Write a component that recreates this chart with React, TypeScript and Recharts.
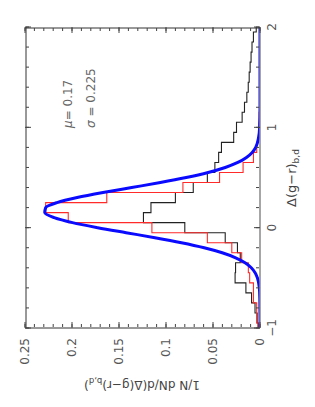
import { LineChart, Line, XAxis, YAxis } from "recharts";

// bin centres of the two histograms (bin width 0.1)
const binCenters = [
  -1.0, -0.9, -0.8, -0.7, -0.6, -0.5, -0.4, -0.3, -0.2, -0.1, 0.0, 0.1, 0.2, 0.3, 0.4, 0.5,
  0.6, 0.7, 0.8, 0.9, 1.0, 1.1, 1.2, 1.3, 1.4, 1.5, 1.6, 1.7, 1.8, 1.9, 2.0,
];

// broad (black) histogram
const blackHist = [
  0.002, 0.003, 0.0053, 0.009, 0.015, 0.0265, 0.026, 0.021, 0.024, 0.037, 0.08, 0.124, 0.116,
  0.09, 0.071, 0.056, 0.048, 0.044, 0.041, 0.028, 0.025, 0.019, 0.0165, 0.014, 0.0125, 0.0115,
  0.0105, 0.0095, 0.0085, 0.007, 0.004,
];

// narrow (red) histogram
const redHist = [
  0.002, 0.0035, 0.0035, 0.007, 0.007, 0.011, 0.0124, 0.0195, 0.03, 0.056, 0.115, 0.204, 0.228,
  0.163, 0.082, 0.043, 0.018, 0.007, 0.0035, 0.0015, 0.001, 0.0008, 0.0005, 0, 0, 0, 0, 0, 0, 0, 0,
];

// gaussian fit (blue)
const fitX = [
  -1.0, -0.9, -0.8, -0.7, -0.6, -0.5, -0.45, -0.4, -0.35, -0.3, -0.25, -0.2, -0.15, -0.1, -0.05,
  0.0, 0.05, 0.1, 0.15, 0.2, 0.25, 0.3, 0.35, 0.4, 0.45, 0.5, 0.55, 0.6, 0.65, 0.7, 0.75, 0.8,
  0.9, 1.0, 1.2, 1.5, 2.0,
];
const fitY = [
  0, 0, 0.0001, 0.0002, 0.0007, 0.0028, 0.0052, 0.0093, 0.0159, 0.0259, 0.0402, 0.0594, 0.0836,
  0.1118, 0.1425, 0.1727, 0.1995, 0.219, 0.229, 0.228, 0.216, 0.1945, 0.167, 0.1365, 0.106,
  0.0785, 0.0552, 0.037, 0.0236, 0.0144, 0.0083, 0.0046, 0.0015, 0.0004, 0, 0, 0,
];

const xLabelTicks = [-1, 0, 1, 2];
const xMinorTicks = [-1, -0.8, -0.6, -0.4, -0.2, 0, 0.2, 0.4, 0.6, 0.8, 1, 1.2, 1.4, 1.6, 1.8, 2];
const yLabelTicks = [0, 0.05, 0.1, 0.15, 0.2, 0.25];
const yMinorTicks = [
  0, 0.01, 0.02, 0.03, 0.04, 0.05, 0.06, 0.07, 0.08, 0.09, 0.1, 0.11, 0.12, 0.13, 0.14, 0.15,
  0.16, 0.17, 0.18, 0.19, 0.2, 0.21, 0.22, 0.23, 0.24, 0.25,
];

const blackData = binCenters.map((x, i) => ({ x, y: blackHist[i] }));
const redData = binCenters.map((x, i) => ({ x, y: redHist[i] }));
const fitData = fitX.map((x, i) => ({ x, y: fitY[i] }));

const W = 407;
const H = 315;
const FONT = "'DejaVu Sans', sans-serif";
const FRAME = "#333";
const TICK = "#444";

const fmtX = (v: number) => (v < 0 ? "\u2212" + Math.abs(v) : String(v));
const NoLabel = () => <g />;

// pairs of tick-only axes; each pair gets an invisible series so the axes get drawn
const tickAxes = [
  { x: "bMin", y: "lMin" },
  { x: "bMaj", y: "lMaj" },
  { x: "tMin", y: "rMin" },
  { x: "tMaj", y: "rMaj" },
];

export default function App() {
  const xDom: [number, number] = [-1, 2];
  const yDom: [number, number] = [0, 0.25];
  const tl = { stroke: TICK, strokeWidth: 1 };
  return (
    <div
      style={{
        position: "absolute",
        left: 0,
        top: 0,
        width: H,
        height: W,
        overflow: "hidden",
        background: "#fff",
      }}
    >
      {/* the figure is printed turned a quarter turn anticlockwise */}
      <div
        style={{
          position: "absolute",
          left: 0,
          top: 0,
          width: W,
          height: H,
          transformOrigin: "0 0",
          transform: `translateY(${W}px) rotate(-90deg)`,
        }}
      >
        <LineChart width={W} height={H} margin={{ top: 25, right: 27, left: 29, bottom: 25 }}>
          {/* labelled axes */}
          <XAxis
            xAxisId={0}
            dataKey="x"
            type="number"
            domain={xDom}
            allowDataOverflow
            ticks={xLabelTicks}
            interval={0}
            tickFormatter={fmtX}
            tickLine={false}
            tickSize={5}
            tickMargin={2}
            height={30}
            axisLine={{ stroke: "#888", strokeWidth: 1.5 }}
            tick={{ fontSize: 12, fill: "#555", fontFamily: FONT }}
          />
          <YAxis
            yAxisId={0}
            type="number"
            domain={yDom}
            allowDataOverflow
            ticks={yLabelTicks}
            interval={0}
            tickLine={false}
            tickSize={6}
            tickMargin={4}
            width={50}
            axisLine={{ stroke: FRAME }}
            tick={{ fontSize: 12, fill: "#555", fontFamily: FONT }}
          />

          {/* inward tick marks on all four sides */}
          <XAxis xAxisId="bMin" dataKey="x" type="number" domain={xDom} allowDataOverflow orientation="bottom" mirror height={1}
            ticks={xMinorTicks} interval={0} tick={NoLabel} tickSize={3} axisLine={false} tickLine={tl} />
          <XAxis xAxisId="bMaj" dataKey="x" type="number" domain={xDom} allowDataOverflow orientation="bottom" mirror height={1}
            ticks={xLabelTicks} interval={0} tick={NoLabel} tickSize={6} axisLine={false} tickLine={tl} />
          <XAxis xAxisId="tMin" dataKey="x" type="number" domain={xDom} allowDataOverflow orientation="top" mirror height={1}
            ticks={xMinorTicks} interval={0} tick={NoLabel} tickSize={3} axisLine={{ stroke: FRAME }} tickLine={tl} />
          <XAxis xAxisId="tMaj" dataKey="x" type="number" domain={xDom} allowDataOverflow orientation="top" mirror height={1}
            ticks={xLabelTicks} interval={0} tick={NoLabel} tickSize={6} axisLine={false} tickLine={tl} />
          <YAxis yAxisId="lMin" type="number" domain={yDom} allowDataOverflow orientation="left" mirror width={1}
            ticks={yMinorTicks} interval={0} tick={NoLabel} tickSize={3} axisLine={false} tickLine={tl} />
          <YAxis yAxisId="lMaj" type="number" domain={yDom} allowDataOverflow orientation="left" mirror width={1}
            ticks={yLabelTicks} interval={0} tick={NoLabel} tickSize={6} axisLine={false} tickLine={tl} />
          <YAxis yAxisId="rMin" type="number" domain={yDom} allowDataOverflow orientation="right" mirror width={1}
            ticks={yMinorTicks} interval={0} tick={NoLabel} tickSize={3} axisLine={{ stroke: FRAME }} tickLine={tl} />
          <YAxis yAxisId="rMaj" type="number" domain={yDom} allowDataOverflow orientation="right" mirror width={1}
            ticks={yLabelTicks} interval={0} tick={NoLabel} tickSize={6} axisLine={false} tickLine={tl} />

          {tickAxes.map((a) => (
            <Line key={a.x} xAxisId={a.x} yAxisId={a.y} data={blackData} dataKey="y" stroke="none"
              dot={false} activeDot={false} isAnimationActive={false} />
          ))}

          <Line data={blackData} dataKey="y" type="step" stroke="#222" strokeWidth={1.1} dot={false} isAnimationActive={false} />
          <Line data={redData} dataKey="y" type="step" stroke="#ff2a2a" strokeWidth={1.1} dot={false} isAnimationActive={false} />
          <Line data={fitData} dataKey="y" type="monotone" stroke="#0a0aff" strokeWidth={3} dot={false} isAnimationActive={false} />
        </LineChart>

        <svg
          width={W}
          height={H}
          style={{ position: "absolute", left: 0, top: 0, pointerEvents: "none" }}
          fontFamily={FONT}
        >
          <text x={229} y={296} textAnchor="middle" fontSize={13} fill="#444">
            Δ(g−r)
            <tspan fontSize={9} dy={3}>b,d</tspan>
          </text>
          <text x={26} y={142} textAnchor="middle" fontSize={12} fill="#444" transform="rotate(-90 26 142)">
            1/N  dN/d(Δ(g−r)
            <tspan fontSize={8.5} dy={3}>b,d</tspan>
            <tspan dy={-3}>)</tspan>
          </text>
          <text x={279} y={72} fontSize={12} fill="#666">
            <tspan fontStyle="italic">μ</tspan>=  0.17
          </text>
          <text x={279} y={95} fontSize={12} fill="#666">
            <tspan fontStyle="italic">σ</tspan> =  0.225
          </text>
        </svg>
      </div>
    </div>
  );
}
